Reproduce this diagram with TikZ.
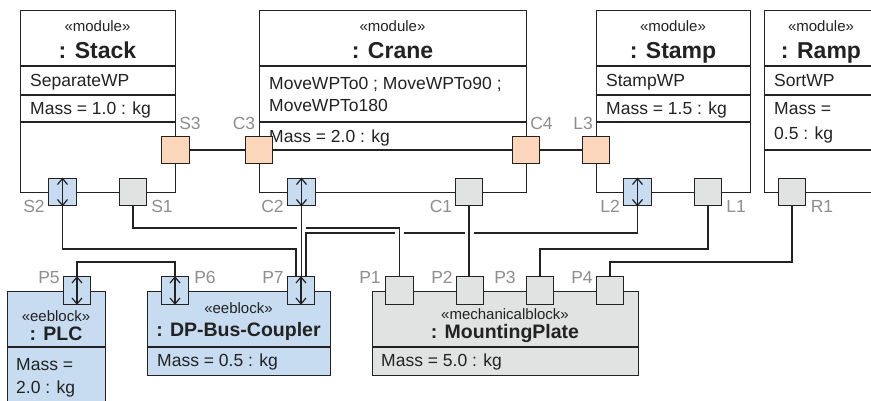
\documentclass[tikz,border=0pt]{standalone}
\usepackage{fontspec}
\setmainfont{Liberation Sans}
\usetikzlibrary{arrows.meta}

\definecolor{ink}{HTML}{222222}
\definecolor{lbl}{HTML}{8E8E8E}
\definecolor{portorange}{HTML}{FBD6BA}
\definecolor{eeblue}{HTML}{C7DCF0}
\definecolor{mechgray}{HTML}{E1E2E2}

\tikzset{
  box/.style={draw=ink, line width=1.4pt, rectangle, inner sep=0pt, anchor=north west},
  portbox/.style={draw=ink, line width=1.3pt, rectangle, inner sep=0pt, minimum size=27.5pt},
  fport/.style={portbox, fill=portorange},
  eport/.style={portbox, fill=eeblue},
  mport/.style={portbox, fill=mechgray},
  wire/.style={draw=ink, line width=1.2pt},
  gapmask/.style={draw=white, line width=3.5pt},
  sepline/.style={draw=ink, line width=1.4pt},
  stereo/.style={inner sep=0pt, anchor=base, font=\fontsize{15}{18}\selectfont, text=ink},
  bigtitle/.style={inner sep=0pt, anchor=base, font=\fontsize{23}{27}\selectfont\bfseries, text=ink},
  smalltitle/.style={inner sep=0pt, anchor=base, font=\fontsize{19.5}{23}\selectfont\bfseries, text=ink},
  txt/.style={inner sep=0pt, anchor=base west, font=\fontsize{17.5}{21}\selectfont, text=ink},
  plbl/.style={inner sep=0pt, anchor=base, font=\fontsize{17.5}{21}\selectfont, text=lbl},
  flowarrow/.style={draw=ink, line width=1.2pt,
    {Straight Barb[length=6pt,width=10pt]}-{Straight Barb[length=6pt,width=10pt]}}
}

\begin{document}
\begin{tikzpicture}[x=1pt, y=-1pt]
\useasboundingbox (0,0) rectangle (871,401);
\clip (0,0) rectangle (871,401);
\fill[white] (0,0) rectangle (871,401);

% ---- module blocks ----
\node[box, minimum width=155pt, minimum height=182pt] (stack) at (20,10) {};
\node[box, minimum width=267pt, minimum height=182pt] (crane) at (259,10) {};
\node[box, minimum width=154pt, minimum height=182pt] (stamp) at (596,10) {};
\node[box, minimum width=114pt, minimum height=182pt] (ramp)  at (764,10) {};

% ---- lower blocks ----
\node[box, fill=eeblue, minimum width=98pt, minimum height=120pt] (plc) at (7,290.5) {};
\node[box, fill=eeblue, minimum width=183pt, minimum height=84.5pt] (dp) at (147,290.5) {};
\node[box, fill=mechgray, minimum width=266pt, minimum height=84.5pt] (mp) at (372,290.5) {};

% ---- compartment separators ----
\draw[sepline] (20,66) -- (175,66) (20,95) -- (175,95) (20,122) -- (175,122);
\draw[sepline] (259,66) -- (526,66) (259,122) -- (526,122) (259,150) -- (526,150);
\draw[sepline] (596,66) -- (750,66) (596,95) -- (750,95) (596,122) -- (750,122);
\draw[sepline] (764,66) -- (878,66) (764,95) -- (878,95) (764,150) -- (878,150);
\draw[sepline] (7,347) -- (105,347);
\draw[sepline] (147,347) -- (330,347);
\draw[sepline] (372,347) -- (638,347);

% ---- block texts ----
\node[stereo] (stackst) at (97.5,32) {«module»};
\node[bigtitle] (stackt) at (97.5,59) {: Stack};
\node[txt] (stackop) at (30,87) {SeparateWP};
\node[txt] (stackm) at (30,115) {Mass = 1.0 : kg};

\node[stereo] (cranest) at (392.5,32) {«module»};
\node[bigtitle] (cranet) at (392.5,59) {: Crane};
\node[txt] (craneopa) at (269,90) {MoveWPTo0 ; MoveWPTo90 ;};
\node[txt] (craneopb) at (269,112) {MoveWPTo180};
\node[txt] (cranem) at (269,143) {Mass = 2.0 : kg};

\node[stereo] (stampst) at (673,32) {«module»};
\node[bigtitle] (stampt) at (673,59) {: Stamp};
\node[txt] (stampop) at (606,87) {StampWP};
\node[txt] (stampm) at (606,115) {Mass = 1.5 : kg};

\node[stereo] (rampst) at (821,32) {«module»};
\node[bigtitle] (rampt) at (821,59) {: Ramp};
\node[txt] (rampop) at (774,87) {SortWP};
\node[txt] (rampma) at (774,115) {Mass =};
\node[txt] (rampmb) at (774,140) {0.5 : kg};

\node[stereo] (plcst) at (56,321.5) {«eeblock»};
\node[smalltitle] (plct) at (56,340) {: PLC};
\node[txt] (plcma) at (16,370) {Mass =};
\node[txt] (plcmb) at (16,393) {2.0 : kg};

\node[stereo] (dpst) at (238.5,313) {«eeblock»};
\node[smalltitle] (dpt) at (238.5,336.5) {: DP-Bus-Coupler};
\node[txt] (dpm) at (157,366.5) {Mass = 0.5 : kg};

\node[stereo] (mpst) at (505,319) {«mechanicalblock»};
\node[smalltitle] (mpt) at (505,338) {: MountingPlate};
\node[txt] (mpm) at (381,366.5) {Mass = 5.0 : kg};

% ---- ports ----
\node[fport] (s3) at (175.5,150) {};
\node[fport] (c3) at (259,150) {};
\node[fport] (c4) at (526,150) {};
\node[fport] (l3) at (596,150) {};

\node[eport] (s2) at (62.5,192) {};
\node[mport] (s1) at (133,192) {};
\node[eport] (c2) at (301.5,192) {};
\node[mport] (c1) at (469,192) {};
\node[eport] (l2) at (637.5,192) {};
\node[mport] (l1) at (708,192) {};
\node[mport] (r1) at (792,192) {};

\node[eport] (p5) at (77,290.5) {};
\node[eport] (p6) at (175,290.5) {};
\node[eport] (p7) at (301,290.5) {};
\node[mport] (p1) at (399.5,290.5) {};
\node[mport] (p2) at (470,290.5) {};
\node[mport] (p3) at (540,290.5) {};
\node[mport] (p4) at (610,290.5) {};

\coordinate (p7l) at ([xshift=-5pt]p7.north);
\coordinate (p7r) at ([xshift=5pt]p7.north);

% ---- connectors ----
\draw[wire] (s3) -- (c3);
\draw[wire] (c4) -- (l3);
\draw[wire] (p5.north) |- (p6.north |- 0,262) -- (p6.north);
\draw[wire] (s2.south) |- (p7l |- 0,249) -- (p7l);
\draw[wire] (l1.south) |- (p3.north |- 0,249) -- (p3.north);
\draw[wire] (r1.south) |- (p4.north |- 0,262) -- (p4.north);
\draw[wire] (l2.south) |- (p7r |- 0,233) -- (p7r);
\draw[gapmask] ([xshift=-4.5pt]p1.north |- 0,233) -- ([xshift=4.5pt]p1.north |- 0,233);
\draw[gapmask] ([xshift=-4.5pt]c1.south |- 0,233) -- ([xshift=4.5pt]c1.south |- 0,233);
\draw[wire] (s1.south) |- (p1.north |- 0,228) -- (p1.north);
\draw[gapmask] ([xshift=-4.5pt]c2.south |- 0,228) -- ([xshift=4.5pt]c2.south |- 0,228);
\draw[wire] (c2.south) -- (c2.south |- p7.north);
\draw[wire] (c1.south) -- (c1.south |- p2.north);

% ---- flow direction marks in the electrical ports ----
\foreach \p in {s2,c2,l2,p5,p6,p7}
  \draw[flowarrow] (\p.south) -- (\p.north);

% ---- port labels ----
\node[plbl] (ls3) at (190,130) {S3};
\node[plbl] (ls2) at (34,213) {S2};
\node[plbl] (ls1) at (162,213) {S1};
\node[plbl] (lc3) at (244,130) {C3};
\node[plbl] (lc2) at (272.5,213) {C2};
\node[plbl] (lc1) at (441,213) {C1};
\node[plbl] (lc4) at (541.5,130) {C4};
\node[plbl] (ll3) at (583,130) {L3};
\node[plbl] (ll2) at (610,213) {L2};
\node[plbl] (ll1) at (736,213) {L1};
\node[plbl] (lr1) at (822,213) {R1};
\node[plbl] (lp5) at (49,283.5) {P5};
\node[plbl] (lp6) at (205,283.5) {P6};
\node[plbl] (lp7) at (273,283.5) {P7};
\node[plbl] (lp1) at (370,283.5) {P1};
\node[plbl] (lp2) at (442,283.5) {P2};
\node[plbl] (lp3) at (505,283.5) {P3};
\node[plbl] (lp4) at (582,283.5) {P4};
\end{tikzpicture}
\end{document}
